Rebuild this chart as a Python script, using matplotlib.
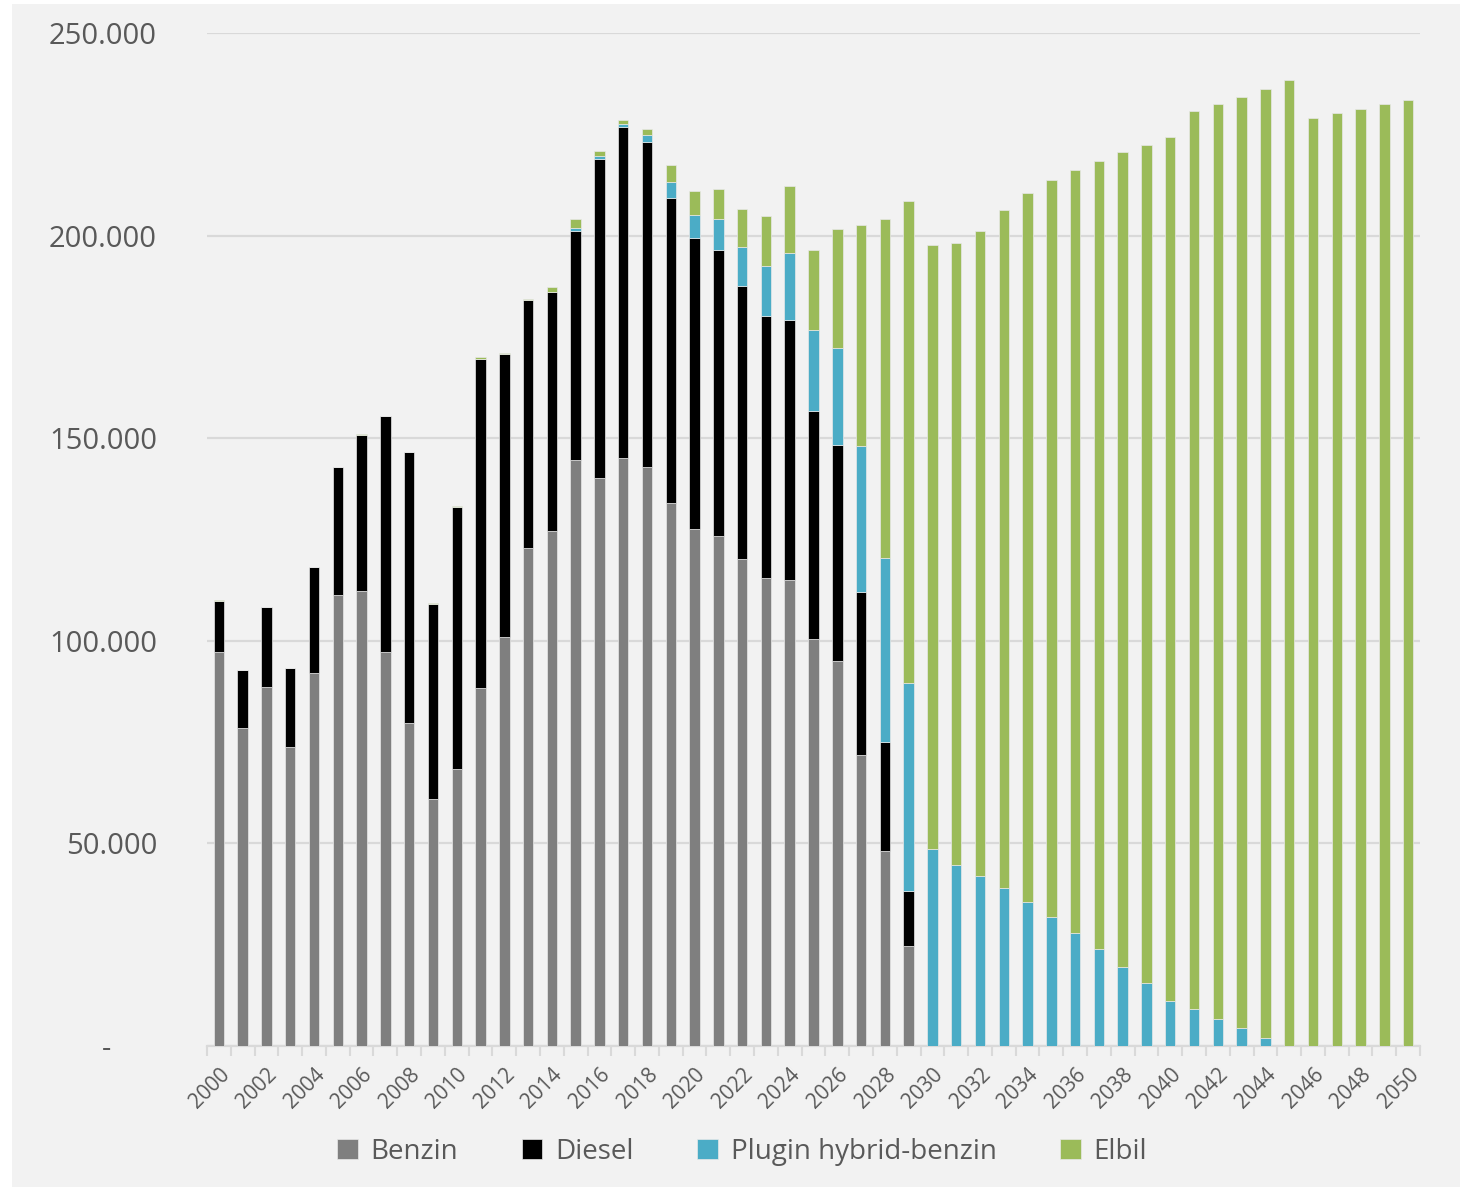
import matplotlib.pyplot as plt
import numpy as np
from matplotlib.patches import Rectangle
from matplotlib.ticker import FixedLocator, FuncFormatter

years = list(range(2000, 2051))

benzin = [97350, 78600, 88560, 73900, 92000, 111200, 112400, 97350, 79800, 61000,
          68400, 88300, 101000, 123000, 127000, 144700, 140200, 145100, 142800, 134000,
          127600, 125900, 120200, 115500, 114900, 100400, 95100, 71800, 48200, 24700,
          0, 0, 0, 0, 0, 0, 0, 0, 0, 0,
          0, 0, 0, 0, 0, 0, 0, 0, 0, 0, 0]

diesel = [12350, 14200, 19740, 19350, 26100, 31800, 38300, 58150, 66900, 48100,
          64600, 81200, 69800, 61000, 59200, 56400, 78700, 81600, 80200, 75200,
          71900, 70600, 67400, 64700, 64300, 56300, 53300, 40200, 26800, 13600,
          0, 0, 0, 0, 0, 0, 0, 0, 0, 0,
          0, 0, 0, 0, 0, 0, 0, 0, 0, 0, 0]

plugin = [0, 0, 0, 0, 0, 0, 0, 0, 0, 0,
          0, 0, 0, 0, 0, 800, 700, 900, 1800, 4100,
          5700, 7700, 9500, 12200, 16600, 19900, 23900, 36000, 45400, 51300,
          48700, 44700, 42000, 39100, 35600, 31900, 27900, 23900, 19500, 15500,
          11200, 9100, 6700, 4400, 2000, 0, 0, 0, 0, 0, 0]

elbil = [300, 0, 0, 0, 0, 0, 300, 0, 0, 300,
         300, 500, 300, 300, 1100, 2300, 1200, 900, 1400, 4100,
         5800, 7400, 9500, 12500, 16500, 19900, 29300, 54500, 83800, 119000,
         149100, 153500, 159200, 167100, 175000, 181800, 188400, 194400, 201200, 206900,
         213100, 221700, 225800, 229800, 234200, 238300, 229100, 230200, 231200, 232600, 233500]

series = [
    ("Benzin", benzin, "#7f7f7f"),
    ("Diesel", diesel, "#000000"),
    ("Plugin hybrid-benzin", plugin, "#4bacc6"),
    ("Elbil", elbil, "#9bbb59"),
]

plt.rcParams["font.family"] = ["Open Sans", "DejaVu Sans"]

fig = plt.figure(figsize=(14.7, 11.87), dpi=100, facecolor="white")
# grey chart area inside a thin white frame
fig.patches.append(Rectangle((12 / 1470, 0), 1448 / 1470, 1183 / 1187,
                             transform=fig.transFigure, facecolor="#f2f2f2",
                             edgecolor="none", zorder=-10))

ax = fig.add_axes([207 / 1470, 1 - 1046 / 1187, 1213 / 1470, 1013 / 1187])
ax.set_facecolor("#f2f2f2")

x = np.arange(len(years))
bottom = np.zeros(len(years))
for name, vals, color in series:
    vals = np.array(vals, dtype=float)
    ax.bar(x, vals, width=0.44, bottom=bottom, color=color, label=name,
           edgecolor="#e8e8e8", linewidth=0.5, zorder=3)
    bottom += vals


def thousands(v, pos):
    if v == 0:
        return "-      "
    return f"{int(v):,}".replace(",", ".")


ax.set_xlim(-0.5, len(years) - 0.5)
ax.set_ylim(0, 250000)
ax.set_yticks(range(0, 250001, 50000))
ax.yaxis.set_major_formatter(FuncFormatter(thousands))
ax.grid(axis="y", color="#d9d9d9", linewidth=1.6, zorder=0)
ax.tick_params(axis="y", length=0, pad=36, labelsize=21, labelcolor="#595959")

# year labels every second year, tick marks between categories
ax.set_xticks(x[::2])
ax.set_xticklabels([str(y) for y in years[::2]], rotation=45, ha="right",
                   va="top", rotation_mode="anchor")
ax.tick_params(axis="x", which="major", length=0, pad=13, labelsize=15,
               labelcolor="#595959")
ax.xaxis.set_minor_locator(FixedLocator(np.arange(-0.5, len(years), 1)))
ax.tick_params(axis="x", which="minor", length=7, width=1.5, color="#d9d9d9")

for side in ["left", "right", "top"]:
    ax.spines[side].set_visible(False)
ax.spines["bottom"].set_color("#d9d9d9")
ax.spines["bottom"].set_linewidth(1.6)

leg = fig.legend(loc="center", bbox_to_anchor=(742 / 1470, 1 - 1152 / 1187),
                 ncol=4, frameon=False, fontsize=20, handlelength=0.75,
                 handleheight=0.75, handletextpad=0.45, columnspacing=2.3)
for t in leg.get_texts():
    t.set_color("#595959")

fig.savefig("out.png", dpi=100, facecolor=fig.get_facecolor())
